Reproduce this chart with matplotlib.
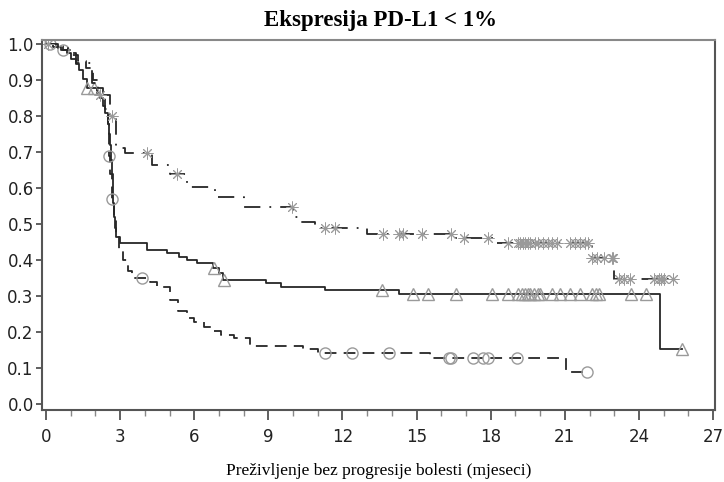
import numpy as np
import matplotlib
matplotlib.use('Agg')
import matplotlib.pyplot as plt
from matplotlib.ticker import MultipleLocator

# Kaplan-Meier step data (months, survival) for three groups
solid_t = [0, 0.3, 0.6, 0.85, 1.0, 1.2, 1.35, 1.5, 1.65, 2.05, 2.2, 2.3, 2.4, 2.5, 2.55,
           2.6, 2.65, 2.68, 2.7, 2.72, 2.75, 2.78, 2.85, 3.0, 4.1, 4.9, 5.4, 5.7, 6.1,
           6.75, 7.0, 7.15, 8.9, 9.5, 11.3, 14.3, 24.85]
solid_s = [1.0, 0.993, 0.985, 0.975, 0.96, 0.945, 0.93, 0.905, 0.88, 0.865, 0.85, 0.83,
           0.81, 0.78, 0.75, 0.72, 0.68, 0.64, 0.60, 0.56, 0.52, 0.49, 0.465, 0.448,
           0.429, 0.42, 0.41, 0.40, 0.393, 0.379, 0.365, 0.346, 0.338, 0.326, 0.318,
           0.307, 0.154]
solid_cens = [1.65, 1.95, 6.8, 7.2, 13.6, 14.85, 15.45, 16.6, 18.05, 18.7, 19.1, 19.25,
              19.4, 19.5, 19.6, 19.75, 19.9, 20.0, 20.5, 20.8, 21.2, 21.6, 22.1, 22.25,
              22.4, 23.7, 24.3, 25.75]

dash_t = [0, 0.4, 0.7, 1.0, 1.3, 1.6, 1.9, 2.1, 2.3, 2.4, 2.5, 2.55, 2.6, 2.67, 2.75,
          2.85, 2.95, 3.1, 3.3, 3.5, 4.2, 4.5, 5.0, 5.35, 5.7, 6.0, 6.4, 6.7, 7.1, 7.6,
          8.25, 10.4, 11.0, 15.55, 21.05]
dash_s = [1.0, 0.995, 0.985, 0.97, 0.955, 0.935, 0.9, 0.88, 0.85, 0.82, 0.78, 0.69,
          0.64, 0.57, 0.52, 0.47, 0.43, 0.40, 0.37, 0.351, 0.34, 0.326, 0.29, 0.26,
          0.24, 0.23, 0.215, 0.204, 0.193, 0.185, 0.163, 0.153, 0.143, 0.129, 0.09]
dash_cens = [0.15, 0.7, 2.55, 2.67, 3.9, 11.3, 12.4, 13.9, 16.3, 16.4, 17.3, 17.7,
             17.9, 19.05, 21.9]

dot_t = [0, 0.5, 0.9, 1.2, 1.85, 2.05, 2.6, 2.85, 3.2, 4.3, 5.0, 5.7, 6.85, 8.0, 10.0,
         10.3, 10.9, 13.0, 16.5, 18.2, 22.1, 23.0]
dot_s = [1.0, 0.99, 0.975, 0.948, 0.893, 0.86, 0.80, 0.712, 0.699, 0.665, 0.64, 0.604,
         0.576, 0.549, 0.521, 0.507, 0.49, 0.474, 0.463, 0.449, 0.407, 0.349]
dot_cens = [0.1, 2.2, 2.67, 4.1, 5.3, 9.95, 11.3, 11.7, 13.65, 14.3, 14.45, 15.2, 16.4,
            16.9, 17.9, 18.7, 19.1, 19.2, 19.3, 19.4, 19.5, 19.6, 19.8, 19.9, 20.1,
            20.3, 20.5, 20.7, 21.2, 21.4, 21.6, 21.8, 21.95, 22.1, 22.3, 22.6, 22.9,
            22.95, 23.2, 23.4, 23.65, 24.6, 24.8, 24.9, 25.0, 25.4]
dot_end = 25.5

x_ticks = np.arange(0, 28, 3)
y_ticks = np.round(np.arange(0, 1.01, 0.1), 1)

title = 'Ekspresija PD-L1 < 1%'
xlabel = 'Preživljenje bez progresije bolesti (mjeseci)'


def surv_at(times, surv, t):
    idx = np.searchsorted(times, t, side='right') - 1
    return np.asarray(surv)[idx]


fig = plt.figure(figsize=(7.24, 4.82), dpi=100)
ax = fig.add_axes([42 / 724, 72 / 482, 673 / 724, 370 / 482])

line_col = '#262626'
mark_col = '#9a9a9a'

# solid curve with triangle censor marks
st = solid_t + [max(solid_cens)]
ss = solid_s + [solid_s[-1]]
ax.step(st, ss, where='post', color=line_col, lw=1.3)
ax.plot(solid_cens, surv_at(solid_t, solid_s, solid_cens), ls='none', marker='^',
        ms=8.5, mfc='none', mec=mark_col, mew=1.0)

# dashed curve with circle censor marks
dt = dash_t + [max(dash_cens)]
ds = dash_s + [dash_s[-1]]
ax.step(dt, ds, where='post', color=line_col, lw=1.3, dashes=(6.5, 4))
ax.plot(dash_cens, surv_at(dash_t, dash_s, dash_cens), ls='none', marker='o',
        ms=8, mfc='none', mec=mark_col, mew=1.0)

# dash-dot curve with star censor marks
ot = dot_t + [dot_end]
os_ = dot_s + [dot_s[-1]]
ax.step(ot, os_, where='post', color=line_col, lw=1.3, dashes=(9, 5, 1, 5))
ax.plot(dot_cens, surv_at(dot_t, dot_s, dot_cens), ls='none', marker=(8, 2, 0),
        ms=8.5, mfc='none', mec=mark_col, mew=0.7)

ax.set_xlim(-0.162, 27.08)
ax.set_ylim(-0.0153, 1.0125)
ax.set_xticks(x_ticks)
ax.xaxis.set_minor_locator(MultipleLocator(1))
ax.set_yticks(y_ticks)
ax.set_yticklabels([f'{v:.1f}' for v in y_ticks])

tick_font = ['Liberation Sans Narrow', 'DejaVu Sans']
for lab in ax.get_xticklabels() + ax.get_yticklabels():
    lab.set_family(tick_font)
    lab.set_fontsize(12)
    lab.set_color('#222222')
ax.tick_params(axis='x', which='major', length=7, width=1.2, color='#444444', pad=6)
ax.tick_params(axis='x', which='minor', length=4, width=1.0, color='#888888')
ax.tick_params(axis='y', which='major', length=4, width=1.2, color='#444444', pad=2)

for side in ['left', 'bottom', 'right', 'top']:
    ax.spines[side].set_color('#555555')
    ax.spines[side].set_linewidth(1.5)
ax.spines['top'].set_color('#888888')

ax.set_xlabel(xlabel, family='Liberation Serif', fontsize=12.5, labelpad=12)
fig.text(0.525, 0.958, title, ha='center', va='center', family='Liberation Serif',
         fontweight='bold', fontsize=16.5)

fig.savefig('out.png', dpi=100)
